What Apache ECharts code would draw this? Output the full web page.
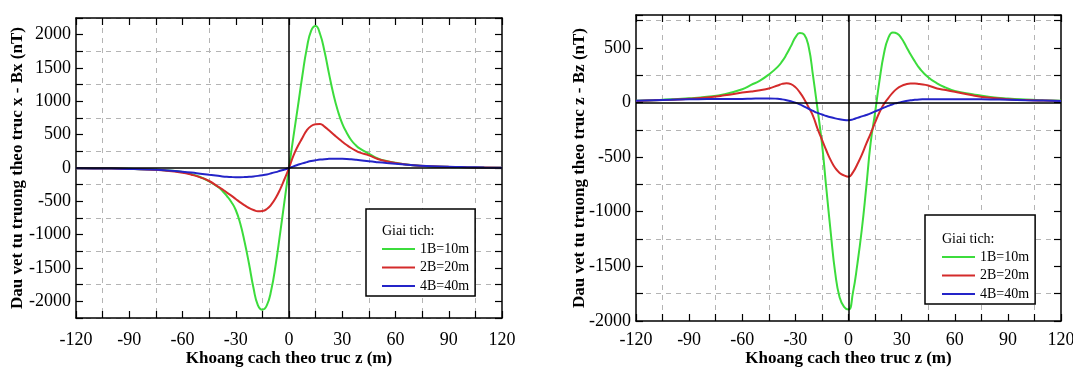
<!DOCTYPE html>
<html>
<head>
<meta charset="utf-8">
<script src="https://cdn.jsdelivr.net/npm/echarts@6/dist/echarts.min.js"></script>
<style>
  html, body { margin: 0; padding: 0; background: #fff; }
  #main { width: 1073px; height: 368px; }
</style>
</head>
<body>
<div id="main"></div>
<script>
// khoang cach theo truc z (m)
var xs = [-120, -110, -100, -90, -80, -70, -60, -55, -50, -45,
  -40, -37.5, -35, -32.5, -30, -27.5, -25, -22.5, -20, -17.5,
  -15, -12.5, -10, -7.5, -5, -2.5, 0, 2.5, 5, 7.5,
  10, 12.5, 15, 17.5, 20, 22.5, 25, 27.5, 30, 32.5,
  35, 37.5, 40, 45, 50, 55, 60, 70, 80, 90,
  100, 110, 120];

// Bx (nT)
var bx1 = [-4, -6, -9, -13, -20, -33, -60, -90, -135, -200,
  -285, -345, -420, -510, -630, -830, -1110, -1440, -1800, -2060,
  -2125, -2060, -1830, -1450, -980, -490, 0, 470, 920, 1380,
  1790, 2060, 2130, 2010, 1750, 1420, 1110, 860, 665, 530,
  420, 345, 290, 215, 145, 105, 78, 42, 24, 15,
  10, 7, 5];
var bx2 = [-4, -6, -9, -14, -22, -38, -70, -100, -140, -195,
  -280, -320, -370, -415, -465, -515, -560, -600, -630, -650,
  -645, -615, -550, -450, -320, -165, 0, 185, 330, 450,
  565, 630, 655, 660, 620, 565, 505, 450, 395, 345,
  300, 262, 230, 190, 135, 100, 75, 42, 26, 17,
  11, 8, 5];
var bx3 = [-4, -6, -9, -14, -22, -35, -55, -68, -85, -102,
  -118, -126, -132, -136, -138, -138, -136, -132, -126, -118,
  -108, -96, -80, -62, -42, -22, 0, 25, 48, 70,
  88, 104, 116, 126, 133, 137, 140, 140, 139, 136,
  131, 125, 118, 102, 88, 75, 63, 42, 28, 18,
  12, 8, 5];

// Bz (nT)
var bz1 = [15, 21, 28, 38, 52, 75, 120, 160, 200, 255,
  325, 375, 440, 515, 595, 635, 620, 510, 240, -60,
  -375, -790, -1195, -1560, -1785, -1870, -1895, -1740, -1480, -1165,
  -780, -370, -95, 200, 445, 590, 640, 630, 585, 515,
  440, 375, 315, 230, 175, 135, 105, 75, 50, 35,
  26, 20, 16];
var bz2 = [14, 19, 25, 33, 45, 65, 90, 100, 112, 128,
  155, 170, 176, 168, 140, 92, 30, -45, -125, -240,
  -340, -440, -530, -600, -645, -668, -680, -640, -565, -480,
  -380, -285, -185, -90, -15, 40, 90, 128, 152, 166,
  173, 174, 168, 155, 128, 113, 97, 65, 42, 30,
  22, 17, 13];
var bz3 = [15, 20, 24, 28, 31, 32, 32, 34, 36, 37,
  33, 28, 20, 10, -2, -18, -38, -58, -78, -96,
  -110, -124, -136, -146, -154, -160, -162, -155, -141, -128,
  -115, -100, -82, -66, -48, -32, -16, -5, 5, 13,
  19, 24, 27, 30, 30, 30, 30, 29, 27, 24,
  20, 17, 14];

var names = ['1B=10m', '2B=20m', '4B=40m'];
var colors = ['#3cdc3c', '#d42b2b', '#2424c8'];

var FONT = 'Liberation Serif';
var GRID = '#b4b4b4';
var NONE = 'rgba(0,0,0,0)';

function pairs(vals) {
  return xs.map(function (x, i) { return [x, vals[i]]; });
}

function every(step) {
  return function (v) { return v % step === 0 ? String(v) : ''; };
}

function xAxis(gi, pos, main, margin, gap) {
  return {
    type: 'value', gridIndex: gi, position: pos,
    min: -120, max: 120, interval: 15,
    name: main ? 'Khoang cach theo truc z (m)' : '',
    nameLocation: 'middle', nameGap: gap, nameMoveOverlap: false,
    nameTextStyle: { fontFamily: FONT, fontSize: 17, fontWeight: 'bold', color: '#000' },
    axisLine: { show: true, onZero: false, lineStyle: { color: '#000', width: 1.5 } },
    axisTick: { show: true, inside: true, length: 7, lineStyle: { color: '#000', width: 1.2 } },
    axisLabel: { show: main, formatter: every(30), fontFamily: FONT, fontSize: 18, color: '#000', margin: margin },
    splitLine: { show: main, lineStyle: { color: [NONE, GRID], type: [5, 5], width: 1 } }
  };
}

function yAxis(gi, pos, main, min, max, lineColors, title, gap) {
  return {
    type: 'value', gridIndex: gi, position: pos,
    min: min, max: max, interval: 250,
    name: main ? title : '',
    nameLocation: 'middle', nameGap: gap || 0, nameMoveOverlap: false,
    nameTextStyle: { fontFamily: FONT, fontSize: 17, fontWeight: 'bold', color: '#000' },
    axisLine: { show: true, onZero: false, lineStyle: { color: '#000', width: 1.5 } },
    axisTick: { show: true, inside: true, length: 7, lineStyle: { color: '#000', width: 1.2 } },
    axisLabel: { show: main, formatter: every(500), fontFamily: FONT, fontSize: 18, color: '#000', margin: 5 },
    splitLine: { show: main, lineStyle: { color: lineColors, type: [5, 5], width: 1 } }
  };
}

function curves(sets, xi, yi) {
  var list = [{
    type: 'line', xAxisIndex: xi, yAxisIndex: yi, data: [], z: 1, silent: true,
    markLine: {
      silent: true, symbol: 'none', label: { show: false },
      lineStyle: { color: '#000', type: 'solid', width: 1.5 },
      data: [{ xAxis: 0 }, { yAxis: 0 }]
    }
  }];
  sets.forEach(function (vals, k) {
    list.push({
      name: names[k], type: 'line', xAxisIndex: xi, yAxisIndex: yi,
      data: pairs(vals), smooth: 0.5, symbol: 'none', z: 3,
      lineStyle: { color: colors[k], width: 2 }, itemStyle: { color: colors[k] }
    });
  });
  return list;
}

function legendBox(left, top, pad) {
  return {
    left: left, top: top, orient: 'vertical', padding: pad,
    icon: 'rect', itemWidth: 33, itemHeight: 2.2, itemGap: 4.5, selectedMode: false,
    borderColor: '#000', borderWidth: 1.5, backgroundColor: '#fff',
    textStyle: { fontFamily: FONT, fontSize: 14, color: '#000', lineHeight: 14 },
    data: names
  };
}

function legendTitle(left, top) {
  return {
    text: 'Giai tich:', left: left, top: top, padding: 0, z: 10,
    textStyle: { fontFamily: FONT, fontSize: 14, fontWeight: 'normal', color: '#000' }
  };
}

var chart = echarts.init(document.getElementById('main'));
chart.setOption({
  animation: false,
  backgroundColor: '#fff',
  title: [legendTitle(382, 224), legendTitle(942, 232)],
  legend: [legendBox(366, 209, [33, 6, 3, 16]), legendBox(925, 215, [35, 6, 3, 17])],
  grid: [
    { left: 76, top: 18, width: 426, height: 300, containLabel: false, outerBoundsMode: 'none' },
    { left: 636, top: 15, width: 425, height: 306, containLabel: false, outerBoundsMode: 'none' }
  ],
  xAxis: [
    xAxis(0, 'bottom', true, 13, 32), xAxis(0, 'top', false, 0, 0),
    xAxis(1, 'bottom', true, 10, 29), xAxis(1, 'top', false, 0, 0)
  ],
  yAxis: [
    yAxis(0, 'left', true, -2250, 2250, [GRID, NONE], 'Dau vet tu truong theo truc x - Bx (nT)', 50),
    yAxis(0, 'right', false, -2250, 2250, [NONE]),
    yAxis(1, 'left', true, -2000, 800, [NONE, GRID], 'Dau vet tu truong theo truc z - Bz (nT)', 48),
    yAxis(1, 'right', false, -2000, 800, [NONE])
  ],
  series: curves([bx1, bx2, bx3], 0, 0).concat(curves([bz1, bz2, bz3], 2, 2))
});
</script>
</body>
</html>
